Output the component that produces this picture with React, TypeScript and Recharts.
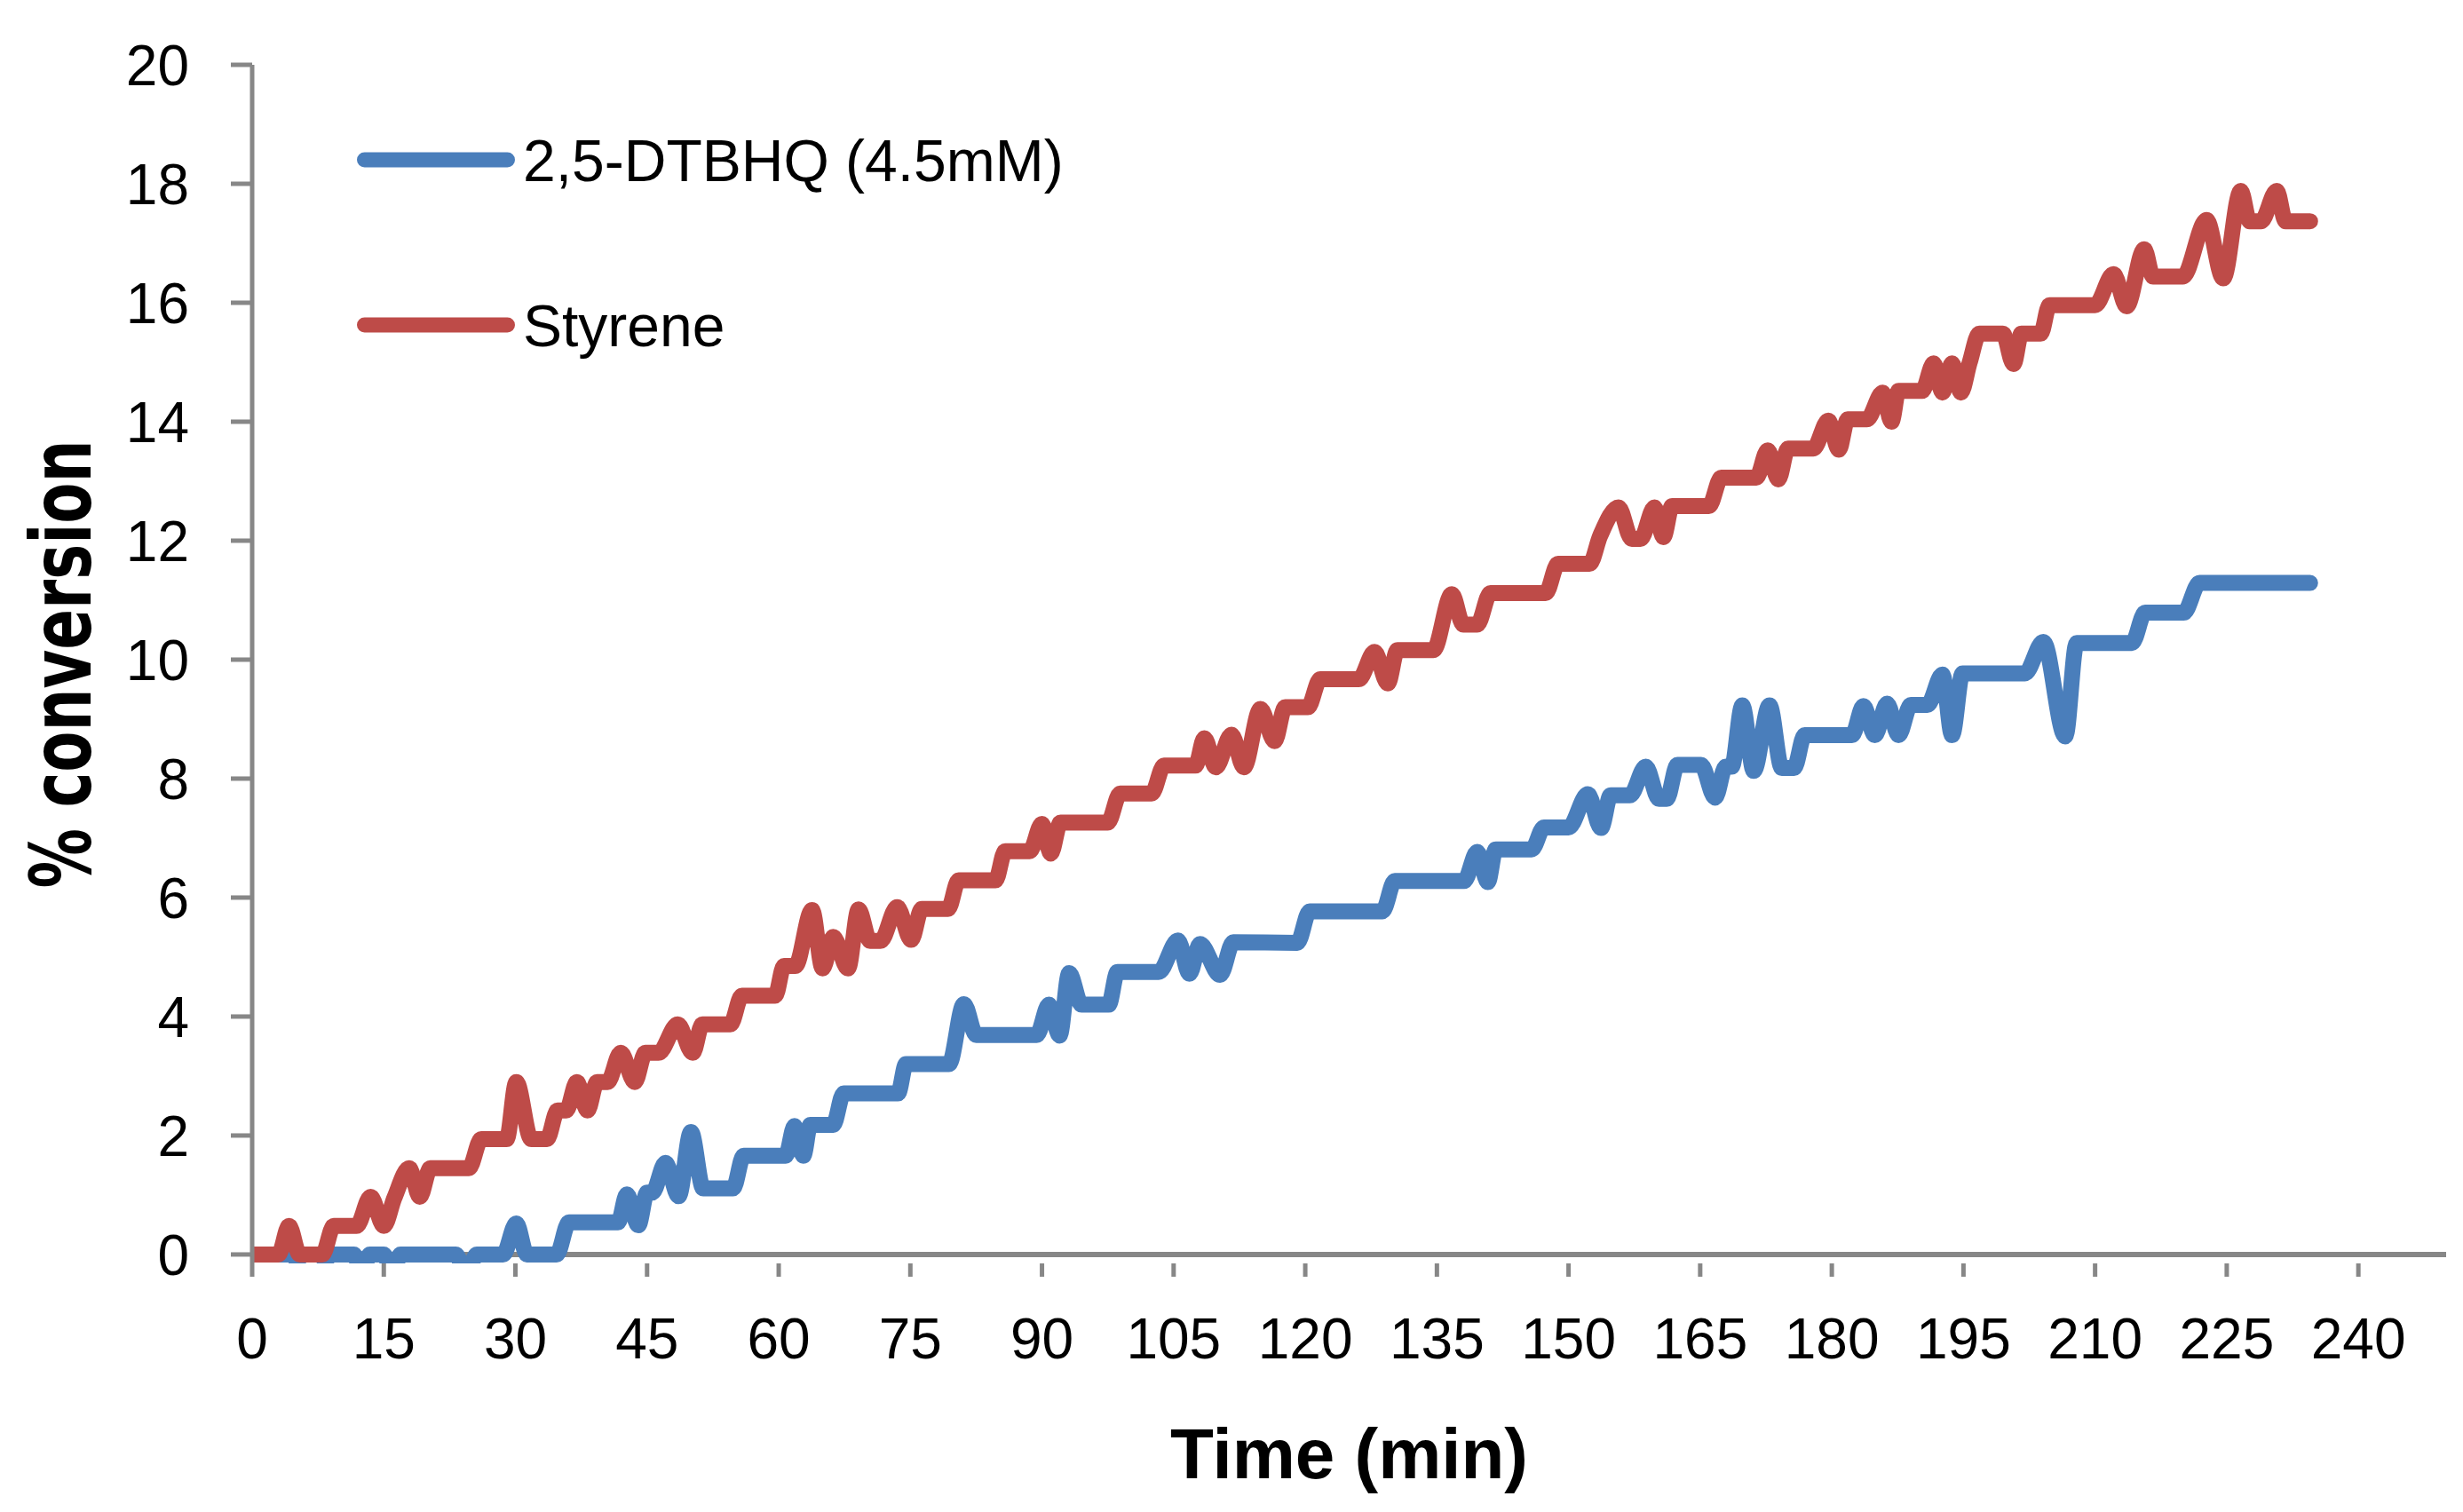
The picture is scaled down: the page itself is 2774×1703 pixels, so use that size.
import { LineChart, Line, XAxis, YAxis, ReferenceLine, Legend } from "recharts";

const timeTicks = [0, 15, 30, 45, 60, 75, 90, 105, 120, 135, 150, 165, 180, 195, 210, 225, 240];
const conversionTicks = [0, 2, 4, 6, 8, 10, 12, 14, 16, 18, 20];

// 2,5-DTBHQ (4.5mM) (min, % conversion)
const dtbhqTime = [
  0, 4.5, 6, 7.5, 9, 11.6, 12.5, 13.4, 15, 16,
  16.9, 23.2, 24.4, 25.6, 28.6, 30.1, 31.3, 34.7, 36.1, 41.7,
  42.7, 44, 45, 45.6, 47.1, 48.6, 50, 51.4, 54.8, 56,
  60.8, 61.8, 62.8, 63.6, 66.2, 67.4, 73.6, 74.5, 79.4, 81.1,
  82.5, 89.4, 90.8, 92, 93.1, 94.5, 97.6, 98.6, 103.3, 105.5,
  106.8, 108, 110.3, 111.8, 119.1, 120.5, 128.8, 130.2, 138.1, 139.6,
  140.8, 141.7, 145.8, 147.2, 150, 152.2, 153.7, 154.8, 157, 158.8,
  160.3, 161.2, 162.4, 165.1, 166.7, 167.9, 168.6, 169.8, 171.1, 172.9,
  174.3, 175.7, 176.9, 182.3, 183.6, 184.9, 186.3, 187.6, 189, 190.9,
  192.6, 193.7, 194.9, 202, 204.1, 206.6, 207.9, 214.2, 215.7, 220.1,
  221.9, 234.5,
];
const dtbhqConversion = [
  0, 0, -0.35, -0.35, 0, 0, -0.35, 0, 0, -0.35,
  0, 0, -0.35, 0, 0, 0.52, 0, 0, 0.54, 0.54,
  1.01, 0.49, 1.04, 1.04, 1.54, 0.98, 2.06, 1.11, 1.11, 1.66,
  1.66, 2.16, 1.66, 2.18, 2.18, 2.71, 2.71, 3.2, 3.2, 4.21,
  3.69, 3.69, 4.2, 3.68, 4.73, 4.2, 4.2, 4.75, 4.75, 5.28,
  4.72, 5.22, 4.7, 5.25, 5.24, 5.77, 5.77, 6.28, 6.28, 6.77,
  6.26, 6.81, 6.81, 7.18, 7.18, 7.74, 7.17, 7.72, 7.72, 8.2,
  7.66, 7.66, 8.23, 8.23, 7.68, 8.2, 8.2, 9.23, 8.13, 9.23,
  8.18, 8.18, 8.73, 8.73, 9.22, 8.73, 9.26, 8.73, 9.24, 9.24,
  9.75, 8.73, 9.77, 9.77, 10.3, 8.71, 10.28, 10.28, 10.79, 10.79,
  11.29, 11.29,
];

// Styrene
const styreneTime = [
  0, 3, 4.2, 5.4, 8, 9.3, 11.9, 13.5, 15, 16.2,
  17.9, 19.1, 20.3, 24.7, 26.1, 29, 30.1, 31.8, 33.6, 34.8,
  35.8, 37, 38.2, 39.3, 40.5, 42, 43.6, 44.8, 46.3, 48.5,
  50.2, 51.3, 54.5, 55.8, 59.6, 60.6, 61.9, 63.8, 65, 66.2,
  67.9, 69.1, 70.4, 71.6, 73.5, 75.1, 76.3, 79.3, 80.5, 84.7,
  85.8, 88.6, 90, 91, 92.1, 97.5, 98.9, 102.5, 103.9, 107.5,
  108.5, 109.8, 111.6, 113, 114.9, 116.5, 117.7, 120.3, 121.7, 126.1,
  127.9, 129.4, 130.5, 134.6, 136.7, 138, 139.6, 141.1, 147.4, 148.8,
  152.4, 153.6, 155.7, 157.2, 158.2, 159.8, 160.8, 161.8, 166, 167.4,
  171.4, 172.7, 173.9, 175, 177.9, 179.6, 180.8, 181.8, 184, 185.8,
  186.8, 187.6, 190.3, 191.6, 192.6, 193.7, 194.7, 195.7, 196.8, 199.5,
  200.7, 201.6, 203.8, 204.8, 210, 212.1, 213.6, 215.6, 216.6, 220,
  222.7, 224.6, 226.6, 227.6, 228.9, 230.7, 231.7, 234.5,
];
const styreneConversion = [
  0, 0, 0.48, 0, 0, 0.48, 0.48, 0.97, 0.48, 0.95,
  1.45, 0.97, 1.45, 1.45, 1.94, 1.94, 2.9, 1.94, 1.94, 2.42,
  2.42, 2.9, 2.42, 2.9, 2.9, 3.39, 2.9, 3.39, 3.39, 3.87,
  3.39, 3.87, 3.87, 4.35, 4.35, 4.85, 4.85, 5.79, 4.81, 5.34,
  4.81, 5.8, 5.27, 5.27, 5.84, 5.29, 5.81, 5.81, 6.29, 6.29,
  6.78, 6.78, 7.24, 6.74, 7.26, 7.26, 7.75, 7.75, 8.22, 8.22,
  8.68, 8.19, 8.74, 8.19, 9.17, 8.63, 9.2, 9.2, 9.67, 9.67,
  10.13, 9.6, 10.16, 10.16, 11.1, 10.59, 10.59, 11.12, 11.12, 11.61,
  11.61, 12.08, 12.56, 12.03, 12.03, 12.56, 12.06, 12.58, 12.58, 13.06,
  13.06, 13.52, 13.03, 13.55, 13.55, 14.02, 13.53, 14.04, 14.04, 14.49,
  14.0, 14.52, 14.52, 14.98, 14.49, 14.98, 14.49, 14.99, 15.48, 15.48,
  14.97, 15.48, 15.48, 15.96, 15.96, 16.48, 15.94, 16.9, 16.44, 16.44,
  17.39, 16.41, 17.88, 17.37, 17.37, 17.88, 17.37, 17.37,
];

const dtbhqData = dtbhqTime.map((time, i) => ({ time, conversion: dtbhqConversion[i] }));
const styreneData = styreneTime.map((time, i) => ({ time, conversion: styreneConversion[i] }));

const AXIS_GREY = "#878787";
const BLUE = "#4A7EBB";
const RED = "#BE4B48";

const tickStyle = { fontSize: 64, fill: "#000", fontFamily: "Liberation Sans" };

function YTitle(props: any) {
  const vb = props.viewBox || { x: 0, y: 65, width: 276, height: 1350 };
  const cx = 94;
  const cy = vb.y + vb.height / 2;
  return (
    <text
      x={cx}
      y={cy}
      transform={`rotate(-90 ${cx} ${cy})`}
      textAnchor="middle"
      fontFamily="DejaVu Sans"
      fontWeight="bold"
      fontSize={94}
      textLength={505}
      lengthAdjust="spacingAndGlyphs"
      fill="#000"
    >
      % conversion
    </text>
  );
}

function XTitle(props: any) {
  const vb = props.viewBox || { x: 276, y: 1415, width: 2471, height: 280 };
  return (
    <text
      x={vb.x + vb.width / 2}
      y={vb.y + 242}
      textAnchor="middle"
      fontFamily="Liberation Sans"
      fontWeight="bold"
      fontSize={80}
      fill="#000"
    >
      Time (min)
    </text>
  );
}

function SeriesLegend(props: any) {
  const items = props.payload || [];
  return (
    <svg width={900} height={320} style={{ display: "block" }}>
      {items.map((item: any, i: number) => {
        const y = 72 + i * 186;
        return (
          <g key={String(item.value)}>
            <line x1={8.5} x2={169.5} y1={y} y2={y} stroke={item.color} strokeWidth={17} strokeLinecap="round" />
            <text x={187} y={y + 23.5} fontSize={66} fontFamily="Liberation Sans" fill="#000">
              {item.value}
            </text>
          </g>
        );
      })}
    </svg>
  );
}

export default function App() {
  return (
    <div style={{ width: 2766, height: 1695, background: "#fff" }}>
      <LineChart width={2766} height={1695} margin={{ top: 65, right: 19, bottom: 0, left: 0 }}>
        <XAxis
          dataKey="time"
          type="number"
          domain={[0, 250]}
          ticks={timeTicks}
          interval={0}
          allowDataOverflow
          height={280}
          axisLine={false}
          tickLine={{ stroke: AXIS_GREY, strokeWidth: 5 }}
          tickSize={15}
          tickMargin={47}
          tick={tickStyle}
          label={{ content: XTitle }}
        />
        <YAxis
          type="number"
          domain={[-0.15, 20]}
          ticks={conversionTicks}
          interval={0}
          allowDataOverflow
          width={276}
          axisLine={{ stroke: AXIS_GREY, strokeWidth: 5 }}
          tickLine={{ stroke: AXIS_GREY, strokeWidth: 5 }}
          tickSize={24}
          tickMargin={47}
          tick={tickStyle}
          label={{ content: YTitle }}
        />
        <ReferenceLine y={0} stroke={AXIS_GREY} strokeWidth={6} />
        <Legend
          layout="vertical"
          align="center"
          verticalAlign="middle"
          wrapperStyle={{ position: "absolute", left: 394, top: 100, width: 900, height: 320 }}
          content={SeriesLegend}
        />
        <Line
          data={dtbhqData}
          dataKey="conversion"
          name="2,5-DTBHQ (4.5mM)"
          type="monotone"
          stroke={BLUE}
          strokeWidth={18}
          strokeLinecap="round"
          strokeLinejoin="round"
          dot={false}
          activeDot={false}
          isAnimationActive={false}
        />
        <Line
          data={styreneData}
          dataKey="conversion"
          name="Styrene"
          type="monotone"
          stroke={RED}
          strokeWidth={18}
          strokeLinecap="round"
          strokeLinejoin="round"
          dot={false}
          activeDot={false}
          isAnimationActive={false}
        />
      </LineChart>
    </div>
  );
}
